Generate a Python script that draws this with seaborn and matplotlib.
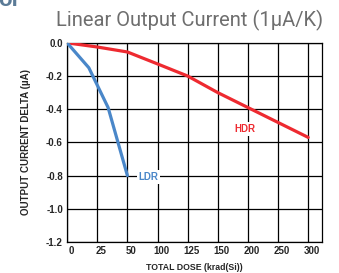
import numpy as np
import pandas as pd
import matplotlib
matplotlib.use("Agg")
import matplotlib.pyplot as plt
import matplotlib.transforms as mtransforms
import seaborn as sns

# dose tick values (the axis spaces them evenly, not linearly)
dose_ticks = [0, 25, 50, 100, 125, 150, 200, 250, 300]
y_ticks = [0.0, -0.2, -0.4, -0.6, -0.8, -1.0, -1.2]

# HDR series (krad(Si), uA)
hdr_dose = [0, 25, 50, 100, 125, 150, 200, 250, 300]
hdr_delta = [0.0, -0.025, -0.055, -0.127, -0.20, -0.30, -0.39, -0.48, -0.57]

# LDR series
ldr_dose = [0, 18, 34, 50]
ldr_delta = [0.0, -0.15, -0.39, -0.80]

RED = "#ee2a30"
BLUE = "#4a87c9"

df = pd.concat([
    pd.DataFrame({"dose": hdr_dose, "delta": hdr_delta, "rate": "HDR"}),
    pd.DataFrame({"dose": ldr_dose, "delta": ldr_delta, "rate": "LDR"}),
])

# evenly spaced tick positions, extended one step past the last tick
pos_ref = np.arange(len(dose_ticks) + 1)
dose_ref = np.array(dose_ticks + [350])


def fwd(x):
    return np.interp(x, dose_ref, pos_ref)


def inv(p):
    return np.interp(p, pos_ref, dose_ref)


sns.set_style("white")
plt.rcParams["font.family"] = ["Liberation Sans", "DejaVu Sans"]

fig = plt.figure(figsize=(3.39, 2.73), dpi=100)
ax = fig.add_axes([0.198, 0.114, 0.752, 0.729])

sns.lineplot(data=df, x="dose", y="delta", hue="rate",
             palette={"HDR": RED, "LDR": BLUE}, linewidth=2.3,
             legend=False, ax=ax, zorder=3)

ax.set_xscale("function", functions=(fwd, inv))
ax.set_xlim(0, 323)
ax.set_ylim(-1.2, 0.0)
ax.set_xticks(dose_ticks)
ax.set_yticks(y_ticks)
ax.set_xticklabels([str(d) for d in dose_ticks])
ax.set_yticklabels([f"{v:.1f}" for v in y_ticks])
ax.grid(True, color="black", linewidth=0.9)
ax.set_axisbelow(True)
for s in ax.spines.values():
    s.set_color("black")
    s.set_linewidth(0.9)
ax.tick_params(length=0, labelsize=7, pad=3)
for lab in ax.get_xticklabels() + ax.get_yticklabels():
    lab.set_fontweight("bold")
offset = mtransforms.ScaledTranslation(4 / 100, 0, fig.dpi_scale_trans)
for lab in ax.get_xticklabels():
    lab.set_transform(lab.get_transform() + offset)

ax.set_xlabel("TOTAL DOSE (krad(Si))", fontsize=6.3, fontweight="bold", labelpad=5)
ax.set_ylabel("OUTPUT CURRENT DELTA (µA)", fontsize=7, fontweight="bold", labelpad=11)

ax.text(195, -0.52, "HDR", color=RED, fontsize=7, fontweight="bold",
        ha="center", va="center", zorder=4,
        bbox=dict(facecolor="white", edgecolor="none", pad=1.5))
ax.text(85, -0.81, "LDR", color=BLUE, fontsize=7, fontweight="bold",
        ha="center", va="center", zorder=4,
        bbox=dict(facecolor="white", edgecolor="none", pad=1.5))

fig.text(0.953, 0.925, "Linear Output Current (1µA/K)", color="#6e6e6e",
         fontsize=14.5, ha="right", va="center",
         family=["Roboto", "DejaVu Sans"])
fig.text(-0.005, 1.0, "or", color="#5b7b97", fontsize=16, fontweight="bold",
         ha="left", va="center")

fig.savefig("out.png", dpi=100)
